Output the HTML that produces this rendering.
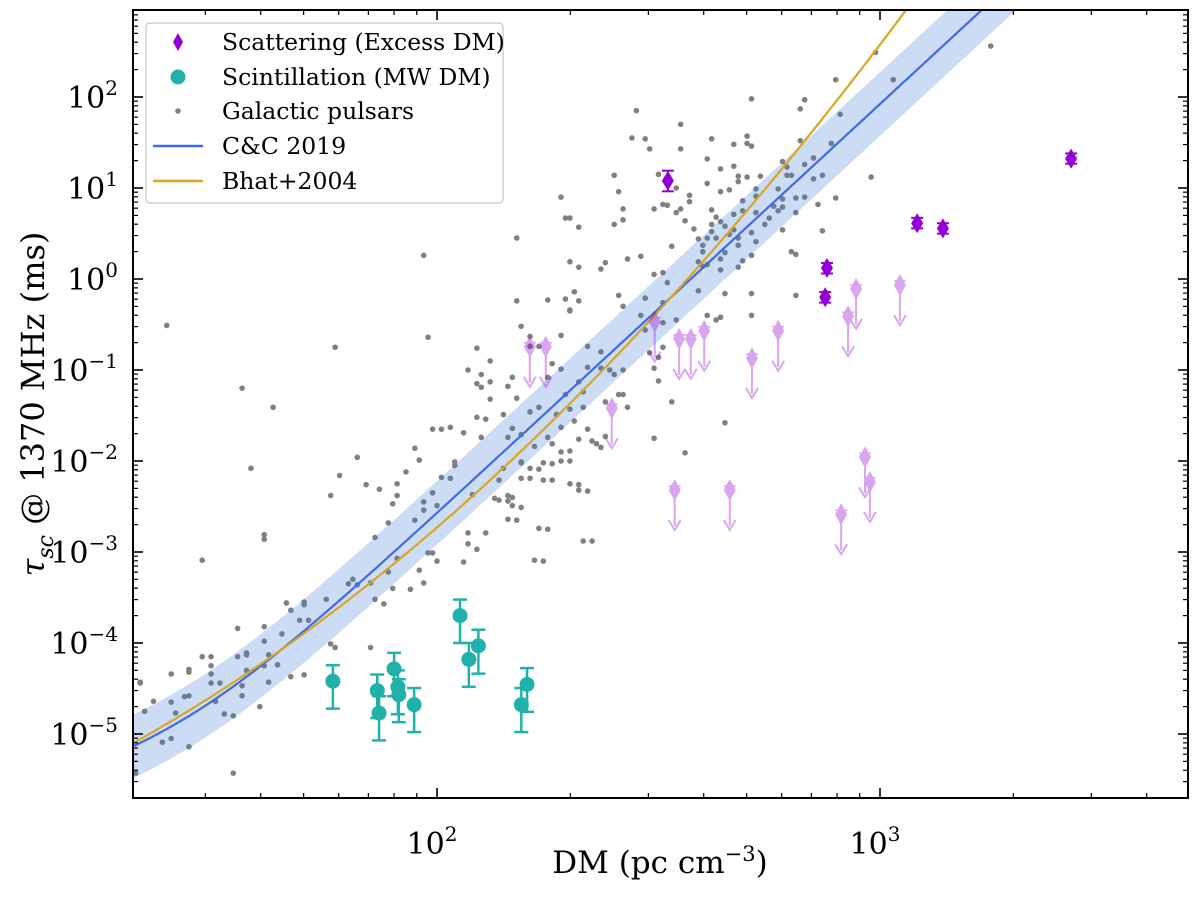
<!DOCTYPE html>
<html><head><meta charset="utf-8"><style>
html,body{margin:0;padding:0;background:#fff;}
svg{display:block;font-family:"DejaVu Serif","Liberation Serif",serif;}
</style></head><body>
<svg id="chart" width="1200" height="899" viewBox="0 0 1200 899" xmlns="http://www.w3.org/2000/svg">
<defs><clipPath id="plotclip"><rect x="133" y="10" width="1055" height="788"/></clipPath></defs>
<g id="plot" clip-path="url(#plotclip)"></g>
<rect x="133" y="10" width="1055" height="788" fill="none" stroke="#000" stroke-width="2"/>
<g id="ticks"></g>
<g id="legend">
<rect x="146" y="23" width="357" height="180" rx="4" fill="#fff" fill-opacity="0.85" stroke="#d0d0d0" stroke-width="1.5"/>
<path d="M178,33 L183,42 L178,51 L173,42 Z" fill="#9400d3"/>
<text x="222" y="50" font-size="23.5">Scattering (Excess DM)</text>
<circle cx="178" cy="77" r="7.5" fill="#20b2aa"/>
<text x="222" y="85" font-size="23.5">Scintillation (MW DM)</text>
<circle cx="178" cy="111" r="2.8" fill="#808080"/>
<text x="222" y="119" font-size="23.5">Galactic pulsars</text>
<line x1="153" y1="146" x2="203" y2="146" stroke="#4169e1" stroke-width="2.5"/>
<text x="222" y="154" font-size="23.5">C&amp;C 2019</text>
<line x1="153" y1="181" x2="203" y2="181" stroke="#daa520" stroke-width="2.5"/>
<text x="222" y="189" font-size="23.5">Bhat+2004</text>
</g>
<text x="660" y="873" font-size="31" text-anchor="middle">DM (pc cm<tspan dy="-12" font-size="21">−3</tspan><tspan dy="12">)</tspan></text>
<text transform="translate(44,404) rotate(-90)" font-size="32" text-anchor="middle"><tspan font-style="italic">τ</tspan><tspan dy="9" font-size="22" font-style="italic">sc</tspan><tspan dy="-9"> @ 1370 MHz (ms)</tspan></text>
</svg>
<script>
// ---- data ----
const pulsarLogDM = [1.32,1.33,1.33,1.34,1.36,1.38,1.40,1.40,1.40,1.41,1.43,1.44,1.44,1.44,1.44,1.47,1.47,1.49,1.49,1.49,1.49,1.50,1.51,1.52,1.54,1.54,1.55,1.55,1.56,1.56,1.57,1.57,1.57,1.58,1.60,1.61,1.61,1.61,1.61,1.61,1.62,1.62,1.64,1.65,1.66,1.67,1.67,1.69,1.70,1.70,1.70,1.71,1.75,1.76,1.76,1.77,1.78,1.80,1.81,1.82,1.82,1.84,1.85,1.85,1.86,1.86,1.87,1.88,1.89,1.89,1.90,1.90,1.91,1.91,1.91,1.93,1.94,1.95,1.96,1.97,1.96,1.97,1.97,1.98,1.99,1.99,2.00,2.01,2.00,2.03,2.04,2.04,2.06,2.07,2.07,2.08,2.09,2.11,2.13,2.14,2.14,2.15,2.16,2.16,2.17,2.19,2.19,2.21,2.22,2.23,2.24,2.24,2.28,2.28,2.30,2.32,2.33,
3.25,3.03,2.99,2.90,2.91,2.83,2.82,2.71,2.45,2.55,2.44,2.47,2.48,2.55,2.62,2.67,2.70,2.70,2.71,2.61,2.64,2.67,2.89,2.82,2.98,2.40,2.50,2.54,2.61,2.64,2.66,2.68,2.70,2.68,2.73,2.72,2.78,2.79,2.79,2.83,2.85,2.85,2.87,2.80,2.28,2.41,2.49,2.51,2.52,2.54,2.55,2.57,2.57,2.56,2.42,2.42,2.40,2.29,2.30,2.32,2.18,2.58,2.62,2.63,2.64,2.65,2.62,2.59,2.62,2.67,2.69,2.69,2.72,2.72,2.71,2.72,2.74,2.75,2.76,2.77,2.77,2.78,2.78,2.81,2.83,2.81,2.78,2.86,2.90,2.87,2.80,2.81,2.81,2.61,2.63,2.66,2.67,2.68,2.68,2.65,2.64,2.60,2.61,2.59,2.60,2.64,2.68,2.69,2.71,2.60,2.53,2.51,2.49,2.46,2.43,2.38,2.37,2.30,2.32,2.18,2.25,2.29,2.30,2.30,2.31,2.32,2.41,2.42,2.47,2.46,2.52,2.51,2.59,2.65,2.71,2.71,2.61,2.64,2.63,2.54,2.51,2.19,2.21,2.28,2.26,2.21,2.23,2.34,2.37,2.34,2.37,2.39,2.40,2.42,2.47,2.48,2.49,2.51,2.50,2.50,2.28,2.25,2.17,2.16,2.18,2.15,2.21,2.23,2.29,2.32,2.33,2.30,2.33,2.31,2.28,2.27,2.25,2.26,2.17,2.16,2.19,2.22,2.19,2.21,2.23,2.26,2.26,2.30,2.30,2.32,2.35,2.36,2.37,2.38,2.41,2.42,2.43,2.38,2.34,2.32,2.34,2.25,2.18,2.16,2.17,2.19,2.24,2.35,2.53,2.56,2.65,2.49,
1.39,1.56,1.63,1.77,1.97,1.98,2.09,2.12,2.07,2.10,2.12,2.09,2.10,2.12,2.09,2.11,1.99,2.01,2.03,2.06,2.10,1.95];
const pulsarLogTau = [-5.43,-4.44,-4.43,-4.75,-4.64,-5.09,-4.34,-5.05,-4.65,-4.77,-4.59,-5.14,-4.29,-4.32,-4.58,-3.09,-4.15,-4.15,-4.25,-4.34,-4.44,-4.64,-4.44,-4.78,-4.80,-5.43,-3.84,-4.15,-4.47,-4.58,-4.11,-4.13,-4.30,-2.08,-4.70,-3.82,-2.81,-2.86,-3.98,-4.25,-4.13,-4.43,-4.24,-3.90,-3.56,-3.64,-4.37,-3.75,-4.35,-3.58,-3.55,-3.75,-3.52,-2.38,-4.01,-4.05,-2.16,-3.35,-3.30,-1.96,-3.36,-2.26,-3.34,-4.05,-2.84,-3.52,-2.31,-3.57,-2.68,-3.22,-2.47,-3.40,-3.07,-2.25,-2.38,-2.12,-3.41,-2.65,-1.99,-3.34,-3.20,-2.54,-2.45,-3.01,-2.35,-3.01,-3.10,-2.18,-2.49,-2.19,-2.01,-2.05,-3.11,-2.79,-2.91,-2.37,-2.97,-2.79,-2.41,-2.21,-2.43,-2.08,-2.38,-2.64,-2.49,-2.02,-2.19,-2.08,-3.09,-2.74,-2.02,-2.21,-1.90,-2.00,-2.25,-2.32,-2.88,
2.56,2.19,2.49,2.19,1.81,1.97,1.87,1.98,1.85,1.70,1.55,1.54,1.43,1.43,1.54,1.48,1.57,1.49,1.46,1.32,1.21,1.24,1.49,1.52,1.12,1.14,1.15,1.00,1.05,0.96,0.98,1.13,1.12,1.07,1.13,0.99,1.29,1.23,1.14,1.26,1.33,1.10,1.14,1.14,0.90,0.96,0.77,0.82,0.81,0.73,0.77,0.92,0.85,0.64,0.77,0.65,0.60,0.67,0.67,0.57,0.45,0.55,0.76,0.68,0.63,0.58,0.60,0.44,0.52,0.71,0.75,0.86,0.91,0.73,0.51,0.41,0.60,0.67,0.80,0.75,0.99,0.79,0.88,0.89,0.90,0.73,0.54,0.82,0.89,0.53,0.30,0.27,-0.18,0.45,0.45,0.49,0.54,0.45,0.37,0.29,0.22,0.30,0.16,0.19,0.14,0.10,0.13,0.20,0.26,0.37,0.36,0.07,0.05,0.25,0.22,0.18,0.11,0.19,0.13,-0.24,-0.23,-0.22,-0.34,-0.35,-0.14,-0.24,-0.18,-0.30,-0.21,-0.40,-0.04,-0.26,-0.13,-0.16,-0.16,-0.40,-0.40,-0.42,-0.45,-0.45,-0.48,-0.52,-0.63,-0.62,-0.93,-0.74,-0.74,-0.74,-0.80,-0.97,-0.98,-1.00,-1.05,-1.00,-0.56,-0.81,-0.98,-0.75,-0.86,-1.12,-0.99,-1.08,-1.08,-1.18,-1.31,-1.49,-1.46,-1.41,-1.27,-1.13,-1.24,-1.43,-1.41,-1.56,-1.63,-1.49,-1.74,-1.81,-1.64,-1.74,-1.71,-1.84,-2.01,-2.19,-2.09,-2.03,-2.21,-1.89,-2.00,-1.76,-1.78,-1.81,-1.85,-1.35,-1.27,-1.27,-1.41,-1.73,-1.65,-2.26,-2.33,-2.75,-2.65,-2.44,-2.40,-2.51,-3.10,-2.88,-1.35,-1.91,-1.58,-1.75,
-0.51,-1.20,-1.41,-0.75,0.26,-0.64,-0.76,-0.90,-1.00,-1.05,-1.13,-1.15,-1.19,-1.32,-1.52,-1.54,-1.65,-1.65,-1.63,-1.69,-1.74,-1.86];

const scintDM  = [58.2, 73.3, 74.0, 80.0, 81.6, 82.0, 88.8, 112.7, 118.0, 124.0, 155.0, 159.7];
const scintTau = [3.8e-5, 3.0e-5, 1.7e-5, 5.2e-5, 3.3e-5, 2.7e-5, 2.1e-5, 2.0e-4, 6.6e-5, 9.3e-5, 2.1e-5, 3.5e-5];
const scintLo  = [1.9e-5, 1.5e-5, 0.85e-5, 2.6e-5, 1.65e-5, 1.35e-5, 1.05e-5, 1.0e-4, 3.3e-5, 4.6e-5, 1.05e-5, 1.75e-5];
const scintHi  = [5.7e-5, 4.5e-5, 2.6e-5, 7.8e-5, 5.0e-5, 4.0e-5, 3.2e-5, 3.0e-4, 1.0e-4, 1.4e-4, 3.2e-5, 5.3e-5];

const scatDM  = [332, 759, 752, 1213, 1387, 2700];
const scatTau = [12.0, 1.32, 0.63, 4.1, 3.6, 21.0];
const scatLo  = [9.2, 1.15, 0.55, 3.6, 3.15, 18.5];
const scatHi  = [15.5, 1.5, 0.72, 4.7, 4.1, 24.0];

const limDM  = [162, 176, 248, 310, 344, 352, 374, 401, 458, 514, 589, 817, 847, 883, 925, 949, 1109];
const limTau = [0.18, 0.18, 0.038, 0.34, 0.0048, 0.22, 0.22, 0.27, 0.0048, 0.135, 0.27, 0.0026, 0.39, 0.78, 0.011, 0.0059, 0.86];

const xMajorTicks = [100, 1000];
const xTickLabels = ["2", "3"];
const yMajorExps = [-5, -4, -3, -2, -1, 0, 1, 2];

// ---- axes ----
const X0 = 133, X1 = 1188, Y0 = 10, Y1 = 798;
const XL = 437, XDEC = 443;
const YL = 279, YDEC = 91;
function xs(dm){ return XL + (Math.log10(dm) - 2) * XDEC; }
function xsLog(l){ return XL + (l - 2) * XDEC; }
function ys(t){ return YL - Math.log10(t) * YDEC; }
function ysLog(l){ return YL - l * YDEC; }
const NS = "http://www.w3.org/2000/svg";
function mk(tag, attrs, parent){ const e = document.createElementNS(NS, tag); for (const k in attrs) e.setAttribute(k, attrs[k]); parent.appendChild(e); return e; }
const plot = document.getElementById('plot');
const ticks = document.getElementById('ticks');
const svg = document.getElementById('chart');

function ccModel(dm){ return 2.98e-7 * Math.pow(dm, 1.4) * (1 + 3.55e-5 * Math.pow(dm, 3.1)) * Math.pow(1.37, -4.4); }
function bhatModel(dm){ const l = Math.log10(dm); return Math.pow(10, -6.758 - 0.18 * l + 1.097 * l * l); }
const dmMin = Math.pow(10, 2 + (X0 - XL) / XDEC), dmMax = Math.pow(10, 2 + (X1 - XL) / XDEC);
let up = [], dn = [], cc = [], bh = [];
for (let i = 0; i <= 300; i++) {
  const dm = dmMin * Math.pow(dmMax / dmMin, i / 300);
  const t = ccModel(dm);
  up.push(xs(dm).toFixed(1) + ',' + ysLog(Math.log10(t) + 0.35).toFixed(1));
  dn.unshift(xs(dm).toFixed(1) + ',' + ysLog(Math.log10(t) - 0.35).toFixed(1));
  cc.push(xs(dm).toFixed(1) + ',' + ys(t).toFixed(1));
  bh.push(xs(dm).toFixed(1) + ',' + ys(bhatModel(dm)).toFixed(1));
}

const pg = mk('g', {}, plot);


for (let i = 0; i < pulsarLogDM.length; i++) {
  const c = mk('circle', {cx: xsLog(pulsarLogDM[i]), cy: ysLog(pulsarLogTau[i]), r: 2.8, fill: '#808080'}, pg);
  
  
}

const band = mk('polygon', {points: up.concat(dn).join(' '), fill: '#3773d8', 'fill-opacity': 0.25}, plot);



const ccl = mk('polyline', {points: cc.join(' '), fill: 'none', stroke: '#4169e1', 'stroke-width': 2.2}, plot);


const bhl = mk('polyline', {points: bh.join(' '), fill: 'none', stroke: '#daa520', 'stroke-width': 2.2}, plot);



const lg = mk('g', {opacity: 0.35}, plot);


for (let i = 0; i < limDM.length; i++) {
  const x = xs(limDM[i]), y = ys(limTau[i]);
  const g = mk('g', {}, lg);
  
  
  mk('line', {x1: x, y1: y, x2: x, y2: y + 36, stroke: '#9400d3', 'stroke-width': 2}, g);
  mk('path', {d: `M${x-6},${y+30} L${x},${y+40} L${x+6},${y+30}`, fill: 'none', stroke: '#9400d3', 'stroke-width': 2}, g);
  mk('path', {d: `M${x},${y-11} L${x+6},${y} L${x},${y+11} L${x-6},${y} Z`, fill: '#9400d3'}, g);
  mk('line', {x1: x-6, y1: y-4, x2: x+6, y2: y-4, stroke: '#9400d3', 'stroke-width': 1.5}, g);
}

const sg = mk('g', {}, plot);


for (let i = 0; i < scatDM.length; i++) {
  const x = xs(scatDM[i]), y = ys(scatTau[i]), yl = ys(scatLo[i]), yh = ys(scatHi[i]);
  const g = mk('g', {}, sg);
  
  
  mk('line', {x1: x, y1: yl, x2: x, y2: yh, stroke: '#9400d3', 'stroke-width': 2}, g);
  mk('line', {x1: x-6, y1: yl, x2: x+6, y2: yl, stroke: '#9400d3', 'stroke-width': 2}, g);
  mk('line', {x1: x-6, y1: yh, x2: x+6, y2: yh, stroke: '#9400d3', 'stroke-width': 2}, g);
  mk('path', {d: `M${x},${y-10} L${x+6},${y} L${x},${y+10} L${x-6},${y} Z`, fill: '#9400d3'}, g);
}

const tg = mk('g', {}, plot);


for (let i = 0; i < scintDM.length; i++) {
  const x = xs(scintDM[i]), y = ys(scintTau[i]), yl = ys(scintLo[i]), yh = ys(scintHi[i]);
  const g = mk('g', {}, tg);
  
  
  mk('line', {x1: x, y1: yl, x2: x, y2: yh, stroke: '#20b2aa', 'stroke-width': 2.5}, g);
  mk('line', {x1: x-7, y1: yl, x2: x+7, y2: yl, stroke: '#20b2aa', 'stroke-width': 2.5}, g);
  mk('line', {x1: x-7, y1: yh, x2: x+7, y2: yh, stroke: '#20b2aa', 'stroke-width': 2.5}, g);
  mk('circle', {cx: x, cy: y, r: 7.5, fill: '#20b2aa'}, g);
}

function tickLine(x1, y1, x2, y2, w){ mk('line', {x1, y1, x2, y2, stroke: '#000', 'stroke-width': w}, ticks); }
for (let e = 1; e <= 3; e++) for (let m = 1; m <= 9; m++) {
  const v = m * Math.pow(10, e); const x = xs(v);
  if (x < X0 || x > X1) continue;
  const L = m === 1 ? 10 : 5, w = m === 1 ? 1.6 : 1.2;
  tickLine(x, Y1, x, Y1 - L, w); tickLine(x, Y0, x, Y0 + L, w);
}
for (let e = -6; e <= 2; e++) for (let m = 1; m <= 9; m++) {
  const v = m * Math.pow(10, e); const y = ys(v);
  if (y < Y0 || y > Y1) continue;
  const L = m === 1 ? 10 : 5, w = m === 1 ? 1.6 : 1.2;
  tickLine(X0, y, X0 + L, y, w); tickLine(X1, y, X1 - L, y, w);
}
for (let i = 0; i < xMajorTicks.length; i++) {
  const t = mk('text', {x: xs(xMajorTicks[i]) - 5, y: 854, 'font-size': 30, 'text-anchor': 'middle'}, svg);
  
  
  t.textContent = '10';
  const s = mk('tspan', {dy: -13, 'font-size': 20}, t); s.textContent = xTickLabels[i];
}
for (let i = 0; i < yMajorExps.length; i++) {
  const e = yMajorExps[i];
  const t = mk('text', {x: 118, y: ysLog(e) + 11, 'font-size': 30, 'text-anchor': 'end'}, svg);
  
  
  t.textContent = '10';
  const s = mk('tspan', {dy: -13, 'font-size': 20}, t); s.textContent = e < 0 ? '−' + (-e) : String(e);
}
</script>
</body></html>
